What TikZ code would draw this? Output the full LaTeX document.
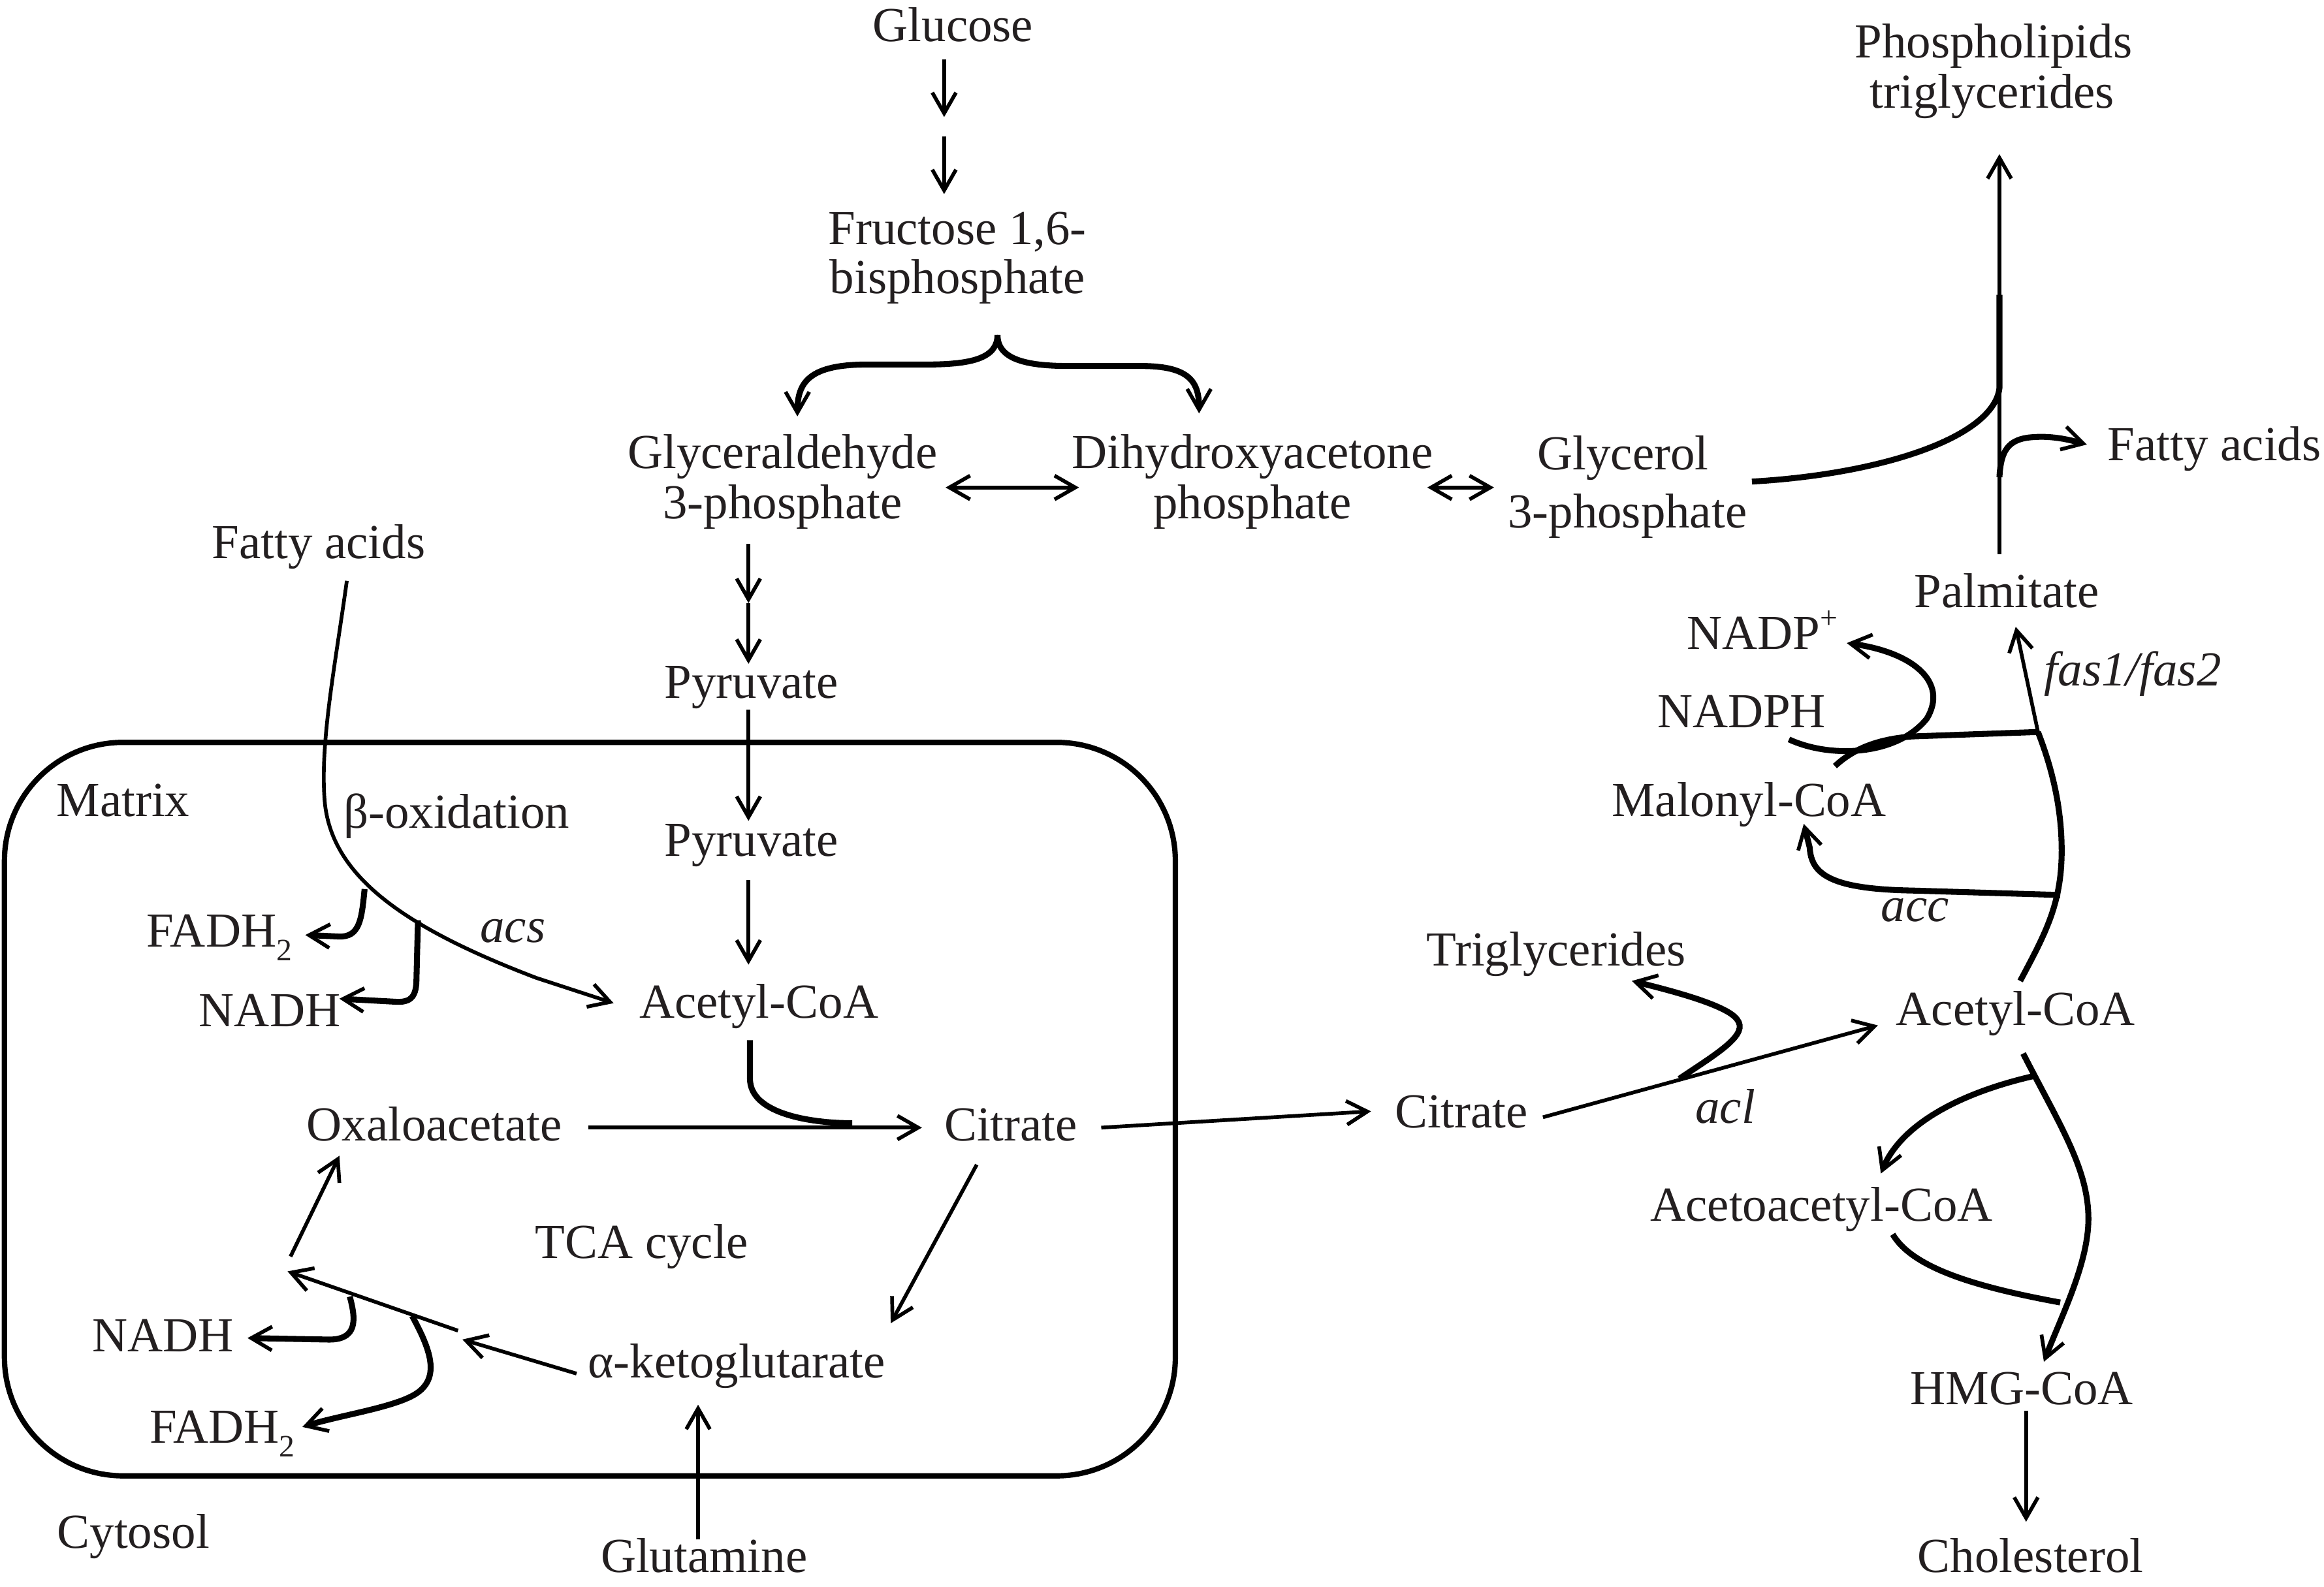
\documentclass[tikz,border=0pt]{standalone}
\usepackage{fontspec}
\setmainfont{Liberation Serif}
\usetikzlibrary{arrows.meta}
\definecolor{txt}{RGB}{35,31,32}
\newcommand\mysub[1]{\raisebox{-0.28em}{\fontsize{21}{21}\selectfont #1}}
\newcommand\mysup[1]{\raisebox{0.42em}{\fontsize{21}{21}\selectfont #1}}
\begin{document}
\begin{tikzpicture}[x=1pt,y=-1pt,
  lbl/.style={anchor=base,inner sep=0pt,text=txt,font=\fontsize{33}{38}\selectfont},
  lnA/.style={line width=2.5pt},
  lnB/.style={line width=4pt},
  arr/.style={-{Straight Barb[length=14pt,width=16pt,line width=2.5pt]}},
  darr/.style={{Straight Barb[length=14pt,width=16pt,line width=2.5pt]}-{Straight Barb[length=14pt,width=16pt,line width=2.5pt]}},
]
\useasboundingbox (0,0) rectangle (1568,1071);

% ---------- labels ----------
\node[lbl] (glc) at (643,28) {Glucose};
\node[lbl] (fru1) at (646,165) {Fructose 1,6-};
\node[lbl] (fru2) at (646,198) {bisphosphate};
\node[lbl] (gap1) at (528,316) {Glyceraldehyde};
\node[lbl] (gap2) at (528,350) {3-phosphate};
\node[lbl] (dhap1) at (845,316) {Dihydroxyacetone};
\node[lbl] (dhap2) at (845,350) {phosphate};
\node[lbl] (g3p1) at (1095,317) {Glycerol};
\node[lbl] (g3p2) at (1098,356) {3-phosphate};
\node[lbl] (pl1) at (1345,39) {Phospholipids};
\node[lbl] (pl2) at (1344,73) {triglycerides};
\node[lbl] (fa2) at (1494,311) {Fatty acids};
\node[lbl] (palm) at (1354,410) {Palmitate};
\node[lbl] (nadp) at (1189,438) {NADP\mysup{+}};
\node[lbl] (nadph) at (1175,491) {NADPH};
\node[lbl] (mal) at (1180,551) {Malonyl-CoA};
\node[lbl] (fas) at (1439,463) {\itshape fas1/fas2};
\node[lbl] (acc) at (1292,622) {\itshape acc};
\node[lbl] (acoa2) at (1360,692) {Acetyl-CoA};
\node[lbl] (tg) at (1050,652) {Triglycerides};
\node[lbl] (cit2) at (986,761) {Citrate};
\node[lbl] (acl) at (1164,758) {\itshape acl};
\node[lbl] (aacoa) at (1229,824) {Acetoacetyl-CoA};
\node[lbl] (hmg) at (1364,948) {HMG-CoA};
\node[lbl] (chol) at (1370,1061) {Cholesterol};
\node[lbl] (fa1) at (215,377) {Fatty acids};
\node[lbl] (pyr1) at (507,471) {Pyruvate};
\node[lbl] (pyr2) at (507,578) {Pyruvate};
\node[lbl] (matrix) at (83,551) {Matrix};
\node[lbl] (boxid) at (308,559) {β-oxidation};
\node[lbl] (fad1) at (148,639) {FADH\mysub{2}};
\node[lbl] (nadh1) at (182,693) {NADH};
\node[lbl] (acs) at (346,636) {\itshape acs};
\node[lbl] (acoa1) at (512,687) {Acetyl-CoA};
\node[lbl] (oaa) at (293,770) {Oxaloacetate};
\node[lbl] (cit1) at (682,770) {Citrate};
\node[lbl] (tca) at (433,849) {TCA cycle};
\node[lbl] (nadh2) at (110,912) {NADH};
\node[lbl] (fad2) at (150,974) {FADH\mysub{2}};
\node[lbl] (akg) at (497,930) {α-ketoglutarate};
\node[lbl] (cyt) at (90,1045) {Cytosol};
\node[lbl] (gln) at (475,1061) {Glutamine};

% ---------- mitochondrion ----------
\draw[line width=3.6pt, rounded corners=80pt] (3,501) rectangle (793,996);

% ---------- coordinates ----------
\coordinate (g1) at (637,40);   \coordinate (g2) at (637,79);
\coordinate (g3) at (637,92);   \coordinate (g4) at (637,131);
\coordinate (brc) at (673,226);
\coordinate (brl) at (538,281); \coordinate (brr) at (809,279);
\coordinate (d1a) at (638,329); \coordinate (d1b) at (728,329);
\coordinate (d2a) at (963,329); \coordinate (d2b) at (1008,329);
\coordinate (p1) at (505,367);  \coordinate (p2) at (505,407);  \coordinate (p3) at (505,448);
\coordinate (p4) at (505,479);  \coordinate (p5) at (505,554);
\coordinate (p6) at (505,594);  \coordinate (p7) at (505,651);
\coordinate (ac1) at (506,702); \coordinate (ac2) at (575,758);
\coordinate (ox1) at (397,761); \coordinate (ox2) at (622,761);
\coordinate (ct1) at (743,761); \coordinate (ct2) at (925,750);
\coordinate (ck1) at (659,786); \coordinate (ck2) at (601,893);
\coordinate (ka1) at (389,927); \coordinate (ka2) at (312,904);
\coordinate (kb1) at (309,898); \coordinate (kb2) at (194,858);
\coordinate (kc1) at (196,848); \coordinate (kc2) at (229,780);
\coordinate (qn1) at (236,875); \coordinate (qn2) at (167,903);
\coordinate (qf1) at (278,888); \coordinate (qf2) at (204,963);
\coordinate (gl1) at (471,1039); \coordinate (gl2) at (471,948);
\coordinate (fa1s) at (234,392); \coordinate (fa1e) at (414,677);
\coordinate (bf1) at (246,600); \coordinate (bf2) at (206,631);
\coordinate (bn1) at (282,621); \coordinate (bn2) at (229,674);
\coordinate (rc1) at (1041,754); \coordinate (rc2) at (1267,692);
\coordinate (tg1) at (1133,728); \coordinate (tg2) at (1101,662);
\coordinate (ap1) at (1363,662); \coordinate (ap2) at (1375,494); \coordinate (ap3) at (1360,423);
\coordinate (am1) at (1390,604); \coordinate (am2) at (1217,556);
\coordinate (mn1) at (1238,517);
\coordinate (nh1) at (1207,499); \coordinate (nh2) at (1246,434);
\coordinate (ah1) at (1365,711); \coordinate (ah2) at (1379,919);
\coordinate (aa1) at (1373,726); \coordinate (aa2) at (1269,792);
\coordinate (aj1) at (1277,833); \coordinate (aj2) at (1390,879);
\coordinate (hc1) at (1367,952); \coordinate (hc2) at (1367,1027);
\coordinate (gy1) at (1182,325); \coordinate (gy2) at (1349,262); \coordinate (gy3) at (1349,199);
\coordinate (pp1) at (1349,374); \coordinate (pp2) at (1349,104);
\coordinate (fr1) at (1349,322); \coordinate (fr2) at (1408,300);

% ---------- glycolysis ----------
\draw[lnA,arr] (g1) -- (g2);
\draw[lnA,arr] (g3) -- (g4);
\draw[lnB,arr] (brc) .. controls (673,242) and (655,246) .. (625,246) -- (585,246)
   .. controls (546,246) and (538,258) .. (brl);
\draw[lnB,arr] (brc) .. controls (673,242) and (691,247) .. (721,247) -- (770,247)
   .. controls (803,247) and (809,258) .. (brr);
\draw[lnA,darr] (d1a) -- (d1b);
\draw[lnA,darr] (d2a) -- (d2b);
\draw[lnA,arr] (p1) -- (p2);
\draw[lnA,arr] (p2) -- (p3);
\draw[lnA,arr] (p4) -- (p5);
\draw[lnA,arr] (p6) -- (p7);

% ---------- TCA ----------
\draw[lnB] (ac1) -- (506,728) .. controls (506,752) and (548,758) .. (ac2);
\draw[lnA,arr] (ox1) -- (ox2);
\draw[lnA,arr] (ct1) -- (ct2);
\draw[lnA,arr] (ck1) -- (ck2);
\draw[lnA,arr] (ka1) -- (ka2);
\draw[lnA,arr] (kb1) -- (kb2);
\draw[lnA,arr] (kc1) -- (kc2);
\draw[lnB,arr] (qn1) .. controls (240,890) and (242,905) .. (220,904) -- (qn2);
\draw[lnB,arr] (qf1) .. controls (290,910) and (298,930) .. (280,941)
   .. controls (265,950) and (230,955) .. (qf2);
\draw[lnA,arr] (gl1) -- (gl2);

% ---------- beta-oxidation ----------
\draw[lnA,arr] (fa1s) .. controls (226,450) and (216,500) .. (219,540)
   .. controls (223,590) and (270,625) .. (362,660) -- (fa1e);
\draw[lnB,arr] (bf1) .. controls (244,620) and (243,633) .. (228,632) -- (bf2);
\draw[lnB,arr] (bn1) -- (281,660) .. controls (281,672) and (278,677) .. (266,676) -- (bn2);

% ---------- cytosolic lipid synthesis ----------
\draw[lnA,arr] (rc1) -- (rc2);
\draw[lnB,arr] (tg1) .. controls (1160,710) and (1180,698) .. (1172,688)
   .. controls (1165,678) and (1125,668) .. (tg2);
\draw[lnB] (ap1) .. controls (1380,630) and (1391,610) .. (1391,574)
   .. controls (1391,540) and (1382,512) .. (ap2);
\draw[lnA,arr] (ap2) -- (ap3);
\draw[lnB,arr] (am1) -- (1290,601) .. controls (1235,600) and (1222,590) .. (1221,572) -- (am2);
\draw[lnB] (ap2) -- (1290,497) .. controls (1265,499) and (1250,506) .. (mn1);
\draw[lnB,arr] (nh1) .. controls (1235,512) and (1280,510) .. (1300,485)
   .. controls (1315,460) and (1290,440) .. (nh2);
\draw[lnB,arr] (ah1) .. controls (1390,760) and (1410,790) .. (1409,825)
   .. controls (1408,855) and (1390,890) .. (ah2);
\draw[lnB,arr] (aa1) .. controls (1320,738) and (1282,760) .. (aa2);
\draw[lnB] (aj1) .. controls (1290,855) and (1330,868) .. (aj2);
\draw[lnA,arr] (hc1) -- (hc2);
\draw[lnA,arr] (pp1) -- (pp2);
\draw[lnB] (gy1) .. controls (1270,320) and (1345,295) .. (gy2) -- (gy3);
\draw[lnB,arr] (fr1) .. controls (1350,305) and (1354,296) .. (1372,295)
   .. controls (1385,294) and (1397,297) .. (fr2);
\end{tikzpicture}
\end{document}
